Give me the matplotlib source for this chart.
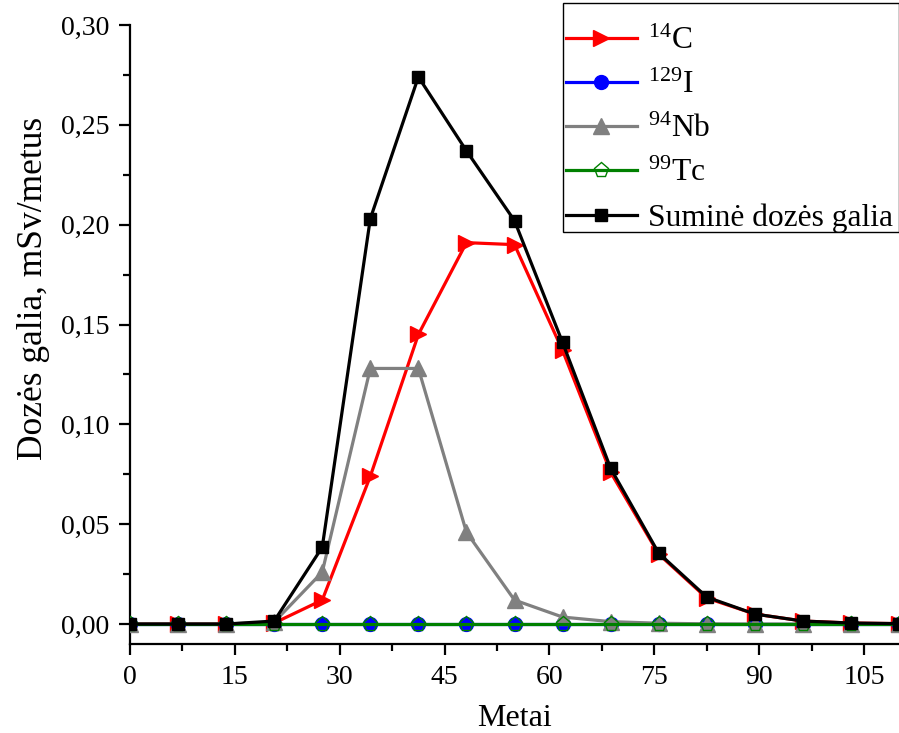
import matplotlib
matplotlib.use("Agg")
import matplotlib.pyplot as plt
from matplotlib.ticker import MultipleLocator, FuncFormatter
from matplotlib.patches import Rectangle

plt.rcParams['font.family'] = ['Liberation Serif', 'DejaVu Serif']
plt.rcParams['mathtext.fontset'] = 'custom'
plt.rcParams['mathtext.rm'] = 'Liberation Serif'
plt.rcParams['mathtext.it'] = 'Liberation Serif:italic'

years = [0, 6.875, 13.75, 20.625, 27.5, 34.375, 41.25, 48.125, 55, 61.875,
         68.75, 75.625, 82.5, 89.375, 96.25, 103.125, 110]
c14 = [0, 0, 0, 0.0005, 0.012, 0.074, 0.145, 0.191, 0.190, 0.137,
       0.076, 0.035, 0.013, 0.005, 0.0015, 0.0005, 0.0002]
i129 = [0]*17
nb94 = [0, 0, 0, 0.001, 0.026, 0.128, 0.128, 0.046, 0.012, 0.0035,
        0.0012, 0.0004, 0.0001, 0, 0, 0, 0]
tc99 = [0]*17
total = [0, 0, 0, 0.0015, 0.0385, 0.203, 0.274, 0.237, 0.202, 0.141,
         0.078, 0.0355, 0.0135, 0.005, 0.0015, 0.0005, 0.0002]

labels = [r'$^{14}\mathrm{C}$', r'$^{129}\mathrm{I}$', r'$^{94}\mathrm{Nb}$',
          r'$^{99}\mathrm{Tc}$', 'Suminė dozės galia']

W, H = 899, 733
fig = plt.figure(figsize=(W/100, H/100), dpi=100)
ax = fig.add_axes([130/W, (H-644)/H, 769/W, (644-25)/H])

lw = 2.3
ax.plot(years, c14, color='#ff0000', lw=lw, marker='>', ms=11, label=labels[0], zorder=3)
ax.plot(years, i129, color='#0000ff', lw=lw, marker='o', ms=10, label=labels[1], zorder=3)
ax.plot(years, nb94, color='#808080', lw=lw, marker='^', ms=11, label=labels[2], zorder=3)
ax.plot(years, tc99, color='#008000', lw=lw, marker='p', ms=11, mfc='none', mec='#008000',
        mew=1.0, label=labels[3], zorder=3)
ax.plot(years, total, color='black', lw=lw, marker='s', ms=9, label=labels[4], zorder=4)

ax.set_xlim(0, 110)
ax.set_ylim(-0.01, 0.30)
ax.xaxis.set_major_locator(MultipleLocator(15))
ax.xaxis.set_minor_locator(MultipleLocator(7.5))
ax.yaxis.set_major_locator(MultipleLocator(0.05))
ax.yaxis.set_minor_locator(MultipleLocator(0.025))
ax.yaxis.set_major_formatter(FuncFormatter(lambda v, p: f"{v:.2f}".replace('.', ',')))
ax.set_ylim(-0.01, 0.30)

for s in ['top', 'right']:
    ax.spines[s].set_visible(False)
for s in ['left', 'bottom']:
    ax.spines[s].set_linewidth(1.6)
ax.tick_params(which='major', direction='out', length=8, width=1.6, labelsize=20, pad=7)
ax.tick_params(which='minor', direction='out', length=5, width=1.6)

ax.set_xlabel('Metai', fontsize=23, labelpad=10)
ax.set_ylabel('Dozės galia, mSv/metus', fontsize=25.5)
ax.yaxis.set_label_coords(-(130 - 50) / 769, (644 - 288) / 619)

leg = fig.legend(loc='upper left', bbox_to_anchor=(566/W, 1 - 27/H), fontsize=22.7,
                 frameon=False, handlelength=2.25, borderpad=0.0, labelspacing=0.47,
                 handletextpad=0.35, borderaxespad=0.0)

fig.patches.append(Rectangle((563/W, 1 - 232/H), (898.5 - 563)/W, (232 - 3)/H,
                             transform=fig.transFigure, fill=False,
                             edgecolor='black', linewidth=1.0, zorder=5))

fig.savefig('out.png', dpi=100)
